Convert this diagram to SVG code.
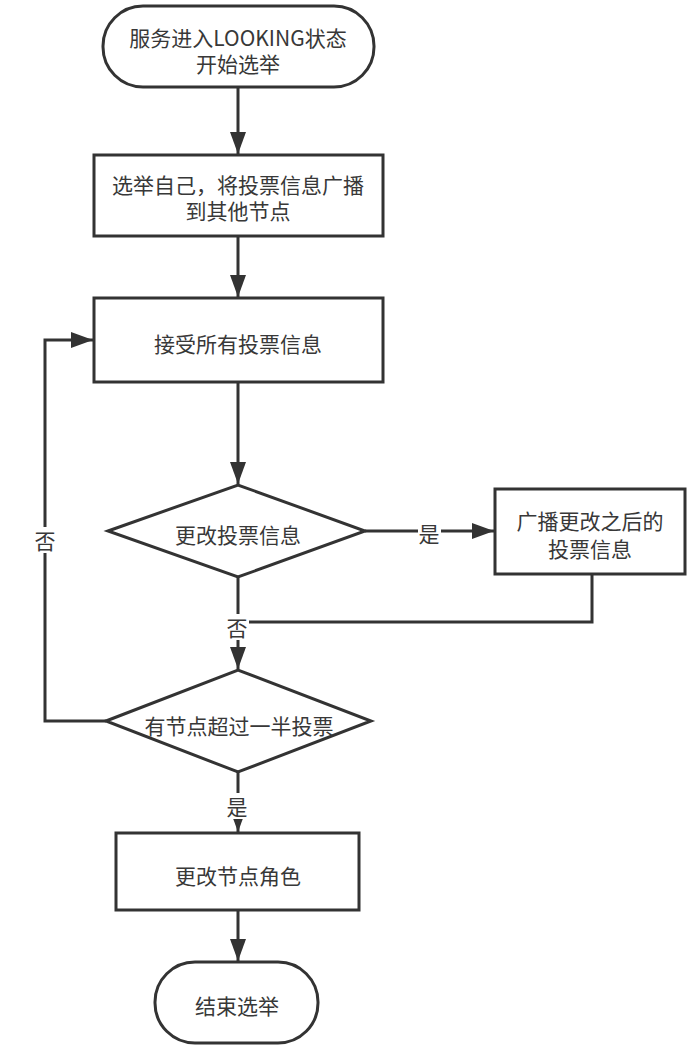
<svg xmlns="http://www.w3.org/2000/svg" width="699" height="1046" viewBox="0 0 699 1046">
<style>
.shape{fill:#fff;stroke:#333;stroke-width:3}
.conn{fill:none;stroke:#333;stroke-width:3}
.t{font-family:"Microsoft YaHei","Noto Sans CJK SC",sans-serif;font-size:21px;fill:#383838;text-anchor:middle;dominant-baseline:central}
.lbl{fill:#fff}
</style>
<defs>
<marker id="arr" markerUnits="userSpaceOnUse" markerWidth="24" markerHeight="18" refX="22" refY="8" orient="auto">
<path d="M0,0 L22,8 L0,16 z" fill="#333"/>
</marker>
</defs>
<rect width="699" height="1046" fill="#fff"/>
<g id="connectors">
<line class="conn" x1="238" y1="87" x2="238" y2="154" marker-end="url(#arr)"/>
<line class="conn" x1="238" y1="236" x2="238" y2="297" marker-end="url(#arr)"/>
<line class="conn" x1="238" y1="382" x2="238" y2="484" marker-end="url(#arr)"/>
<line class="conn" x1="365" y1="531" x2="494" y2="531" marker-end="url(#arr)"/>
<line class="conn" x1="238" y1="577" x2="238" y2="669" marker-end="url(#arr)"/>
<polyline class="conn" points="592,574 592,622 238,622"/>
<polyline class="conn" points="106,721 45,721 45,340 93,340" marker-end="url(#arr)"/>
<line class="conn" x1="238" y1="772" x2="238" y2="832" marker-end="url(#arr)"/>
<line class="conn" x1="238" y1="910" x2="238" y2="961" marker-end="url(#arr)"/>
<rect class="lbl" x="418" y="521" width="23" height="24"/>
<text class="t" x="429" y="533">是</text>
<rect class="lbl" x="226" y="614" width="23" height="26"/>
<text class="t" x="237" y="627">否</text>
<rect class="lbl" x="34" y="527" width="23" height="26"/>
<text class="t" x="45" y="540">否</text>
<rect class="lbl" x="226" y="793" width="23" height="26"/>
<text class="t" x="237" y="806">是</text>
</g>
<g id="start">
<rect class="shape" x="103" y="6" width="271" height="81" rx="40" ry="40"/>
<text class="t" x="238" y="37">服务进入LOOKING状态</text>
<text class="t" x="238" y="63">开始选举</text>
</g>
<g id="vote-self">
<rect class="shape" x="94" y="155" width="289" height="81"/>
<text class="t" x="238" y="184">选举自己，将投票信息广播</text>
<text class="t" x="238" y="210">到其他节点</text>
</g>
<g id="receive">
<rect class="shape" x="94" y="298" width="289" height="84"/>
<text class="t" x="238" y="343">接受所有投票信息</text>
</g>
<g id="change-vote">
<polygon class="shape" points="108,531 238,485 365,531 238,577"/>
<text class="t" x="238" y="534">更改投票信息</text>
</g>
<g id="broadcast">
<rect class="shape" x="495" y="489" width="190" height="85"/>
<text class="t" x="590" y="520">广播更改之后的</text>
<text class="t" x="590" y="548">投票信息</text>
</g>
<g id="majority">
<polygon class="shape" points="106,721 238,670 371,721 238,772"/>
<text class="t" x="239" y="725">有节点超过一半投票</text>
</g>
<g id="change-role">
<rect class="shape" x="116" y="833" width="243" height="77"/>
<text class="t" x="238" y="875">更改节点角色</text>
</g>
<g id="end">
<rect class="shape" x="155" y="962" width="163" height="81" rx="40" ry="40"/>
<text class="t" x="237" y="1005">结束选举</text>
</g>
</svg>
